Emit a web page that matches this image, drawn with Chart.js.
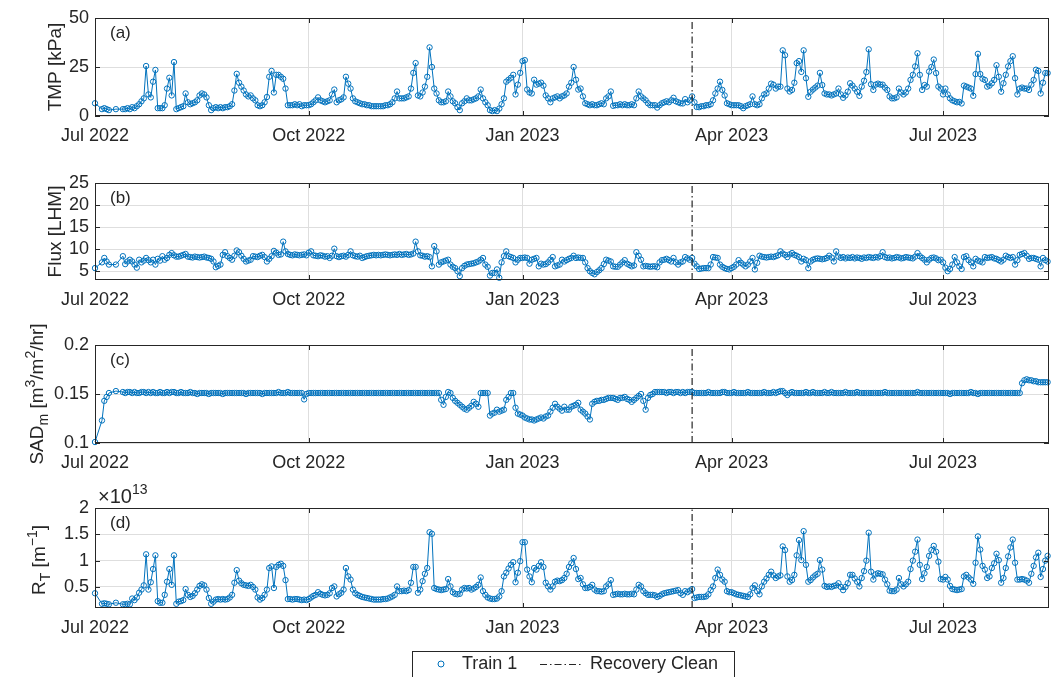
<!DOCTYPE html>
<html>
<head>
<meta charset="utf-8">
<script src="https://cdn.jsdelivr.net/npm/chart.js@4.4.1/dist/chart.umd.min.js"></script>
<style>
  html, body { margin: 0; padding: 0; background: #ffffff; }
  #wrap { position: relative; width: 1061px; height: 677px; overflow: hidden; }
  #wrap canvas { position: absolute; left: 0; top: 0; }
</style>
</head>
<body>
<div id="wrap">
  <canvas id="panelA" width="1061" height="677"></canvas>
  <canvas id="panelB" width="1061" height="677"></canvas>
  <canvas id="panelC" width="1061" height="677"></canvas>
  <canvas id="panelD" width="1061" height="677"></canvas>
</div>
<script>
// Daily records for Train 1, one value per day starting 2022-07-01 (null = no record that day)

// Transmembrane pressure [kPa]
const tmpKPa = [
  // Jul 2022
  6.5, null, null, 3.5, 4, 3.5, 3, null, null, 3.5, null, null, 3.5, 3.5, 4, 3.5, 4.5, 4, 5, 6, 7.5, 9, 25.5, 11, 9.5, 17.5, 23.5, 4, 4, 4, 5.5,
  // Aug 2022
  14, 19.5, 10.5, 27.5, 3.5, 4, 4.5, 5, 11.5, 7, 6, 6.5, 7, 8, 10.5, 11.5, 11, 9.5, 5.5, 3, 4, 4.5, 4, 4.5, 4, 4.5, 4.5, 5, 6, 13, 21.5,
  // Sep 2022
  17, 15, 13, 11, 10, 10.5, 9, 8, 5.5, 5, 5.5, 7, 9.7, 20, 23, 12, 21, 21, 20, 19, 14, 5.5, 5.5, 5.5, 6, 5.5, 6, 5, 5.5, 5.5,
  // Oct 2022
  5.5, 6, 7, 8, 9.5, 8, 7.5, 7, 7.5, 8, 11, 13.5, 7, 8, 8.5, 9.5, 20, 16.5, 14, 9, 7.5, 7, 6.5, 6, 6, 5.5, 5.5, 5, 5, 5, 5,
  // Nov 2022
  5, 5, 5.5, 5.5, 6, 7, 9, 12.5, 9, 9, 9, 9.5, 10, 14, 22, 27, 10.5, 10, 12, 15, 20, 35, 25, 14, 11.5, 8, 7, 7, 7.5, 12.5,
  // Dec 2022
  10, 7.5, 6.5, 4.5, 3, 6.5, 7.5, 9, 8, 8, 8.5, 9, 10, 13.5, 9, 7, 5.5, 3, 2.5, 3, 2.5, 3.8, 6, 9, 17.5, 18.5, 19.5, 21, 11, 16, 22,
  // Jan 2023
  28, 28.5, 13.5, 12, 11.5, 18.5, 16, 16.5, 17, 15.5, 10.5, 9, 7, 9, 9.5, 10, 9, 10, 10.5, 11.5, 15, 17, 25, 18.5, 13.5, 14, 10, 6.5, 6, 5.5, 6,
  // Feb 2023
  5.5, 5.5, 6, 6.5, 6, 9, 10, 12.5, 5.2, 5.5, 5.5, 6, 5.5, 6, 5.5, 5.5, 6, 5.5, 9, 12.5, 10, 9, 8, 6.5, 5.5, 5.5, 5.5, 4.3,
  // Mar 2023
  5.5, 6.5, 7, 7.5, 7, 8, 9.3, 7.5, 7, 6.5, 6.4, 8.6, 7, 8, 10, 7, 4.6, 4.5, 5, 5, 5.5, 5.5, 6, 8, 11.5, 14, 17.5, 13.3, 10.5, 6.5, 6,
  // Apr 2023
  5.5, 5.5, 5.5, 5.5, 5, 4, 5, 5.5, 6, 10, 6, 5.5, 6, 9, 11, 11.5, 14, 16.5, 16, 14, 15, 15, 33.5, 31, 14, 12.5, 13.3, 17, 27, 28,
  // May 2023
  22.5, 33.5, 19.3, 9.8, 12.4, 13.5, 14.5, 15.5, 22, 15.8, 11.5, 11, 11, 10.5, 11, 11.5, 14, 11, 9.3, 10.5, 12.4, 16.7, 15.5, 14, 12.4, 10.3, 15, 18, 22.4, 34, 16.2,
  // Jun 2023
  13.3, 16, 16.5, 16, 16, 14.5, 13.3, 10, 9, 9, 9.5, 14, 12, 11, 12, 14, 18.4, 21, 25.3, 32, 21, 13.3, 15.8, 15, 22.7, 25, 28.8, 21.9, 15, 14,
  // Jul 2023
  11, 14, 11, 9, 8, 7.5, 7, 7.2, 6.4, 15.5, 15, 14.5, 14, 10.3, 21.4, 31.7, 21.4, 19, 18.4, 15, 15.5, 16.7, 18.4, 25.9, 20, 12.4, 16.7, 21, 25.3, 28, 30.5,
  // Aug 2023
  19.3, 11, 14, 14.5, 14, 14, 13.3, 16, 18.4, 23.6, 23, 11.5, 17, 21.9, 21.9
];

// Permeate flux [LHM]
const fluxLHM = [
  5.7, null, null, 7, 8, 7.2, 6.5, null, null, 6.5, null, null, 8.4, 6.6, 7.2, 7.6, 7.2, 6.5, 5.8, 7.6, 7, 7.4, 8, 7.5, 7, 7.6, 6.5, 7.8, 7.4, 8.4, 7.6,
  8, 8.7, 9.1, 8.6, 8.3, 8.3, 8.5, 8.7, 8.9, 8.3, 8.2, 8.1, 8.3, 8.2, 8.1, 8.2, 8.3, 8.1, 8, 7.8, 7.2, 5.9, 6.2, 6.5, 8.7, 9.3, 8.4, 8, 7.6, 8.5, 9.7,
  9.3, 8.5, 7.8, 7.2, 7.4, 7.6, 8.4, 8.3, 8.2, 8.5, 8.7, 8.2, 7.2, 7.8, 8.4, 9.6, 9.2, 8.7, 8.8, 11.7, 9.5, 8.9, 8.7, 8.6, 8.8, 8.7, 8.6, 8.7, 8.8, 8.6,
  9.2, 9.5, 8.6, 8.5, 8.4, 8.6, 8.5, 8.3, 8.4, 8, 8.5, 10.1, 8.4, 8.2, 8.4, 8.5, 8.3, 8.7, 9.5, 8.6, 8.4, 8.3, 8.5, 8, 8.2, 8.4, 8.5, 8.6, 8.7, 8.6, 8.7,
  8.6, 8.7, 8.8, 8.7, 8.6, 8.7, 8.8, 8.7, 8.9, 8.7, 8.8, 8.9, 8.7, 8.8, 9, 11.7, 9.5, 8.6, 8.5, 8.3, 8.4, 8.2, 6.1, 10.7, 9.5, 6.5, 7, 7.2, 7.4, 7.6,
  6.5, 6, 5.7, 5, 3.9, 5.7, 6.2, 6.5, 6.6, 6.7, 6.8, 7, 7.2, 7.6, 8, 6.5, 6, 4, 4.6, 4.6, 5.4, 3.5, 7, 8.4, 9.5, 8.4, 8.2, 8, 7, 7.6, 8,
  8, 8.1, 8, 6.7, 7.6, 7.8, 8, 6.1, 6.7, 6.5, 6.6, 7, 7.6, 8.2, 6.1, 6.3, 6.5, 7.6, 7.2, 7.5, 7.8, 8, 8.5, 8, 8.1, 8, 8, 7, 5.7, 5, 4.6,
  4.3, 4.8, 5.2, 5.7, 6.6, 7.6, 7.4, 7.2, 6.1, 6, 6, 6.5, 7, 7.5, 6.7, 6.4, 6.1, 6.3, 9.3, 8.5, 7.6, 6.1, 6.2, 6.1, 6, 6.1, 6.1, 5.9,
  7, 7.5, 7.6, 7.8, 7.5, 7.2, 8, 7, 6.5, 7, 7.2, 8.2, 7.9, 7.6, 8, 6.7, 6.1, 5.5, 5.6, 5.7, 5.7, 5.7, 6.5, 8.2, 8.1, 8, 6.5, 6, 5.7, 5.5, 5.4,
  5.7, 6, 6.5, 7.5, 6.9, 6.5, 6.1, 6.5, 7.2, 8, 5.4, 6.9, 8.5, 8.3, 8.2, 8.1, 8.2, 8.3, 8.2, 8.4, 8.6, 9.5, 9, 8.7, 8.2, 8.8, 9.1, 8.7, 8.5, 8.2,
  7.2, 7.8, 7.5, 5.7, 7.2, 7.6, 7.8, 7.9, 7.8, 7.7, 7.8, 8, 8.5, 8.1, 7.2, 9.5, 8.3, 8, 8.2, 7.9, 8.1, 8, 8.2, 7.9, 8.1, 8, 7.8, 8.1, 8, 8.2, 8.1,
  8, 8.2, 8.1, 8.4, 9.3, 8.2, 8, 8.1, 7.9, 8, 8.2, 8.1, 7.9, 8, 8.2, 8.1, 8, 7.9, 8.3, 9.1, 8.4, 8, 7.6, 7, 7.6, 8, 8.1, 7.9, 7.5, 7.6,
  7, 5.8, 5, 5.5, 6.5, 8.2, 7, 6.1, 5.5, 8.2, 8.4, 7.5, 7, 6.1, 7.8, 7.4, 7.2, 7, 8.2, 8, 8.1, 8.2, 7.9, 7.8, 7.5, 7.2, 7.6, 8.5, 8.2, 8, 8.2,
  6.5, 7.5, 8.7, 8.9, 9.1, 8.5, 7.8, 8, 8, 7.8, 7.6, 6.1, 8, 7.5, 7.2
];

// Specific aeration demand SAD_m [m3/m2/hr]
const sadM = [
  0.101, null, null, 0.123, 0.143, 0.147, 0.151, null, null, 0.153, null, null, 0.152, 0.151, 0.152, 0.152, 0.151, 0.152, 0.151, 0.151, 0.152, 0.152, 0.151, 0.152, 0.151, 0.152, 0.151, 0.151, 0.152, 0.151, 0.151,
  0.152, 0.151, 0.152, 0.152, 0.151, 0.151, 0.152, 0.151, 0.151, 0.151, 0.152, 0.151, 0.151, 0.150, 0.151, 0.151, 0.151, 0.151, 0.150, 0.151, 0.151, 0.151, 0.151, 0.151, 0.150, 0.151, 0.151, 0.151, 0.151, 0.151, 0.151,
  0.151, 0.151, 0.151, 0.150, 0.151, 0.151, 0.151, 0.151, 0.151, 0.151, 0.150, 0.151, 0.151, 0.151, 0.151, 0.151, 0.151, 0.152, 0.151, 0.151, 0.151, 0.152, 0.151, 0.151, 0.151, 0.151, 0.151, 0.151, 0.1445, 0.150,
  0.151, 0.151, 0.151, 0.151, 0.151, 0.151, 0.151, 0.151, 0.151, 0.151, 0.151, 0.151, 0.151, 0.151, 0.151, 0.151, 0.151, 0.151, 0.151, 0.151, 0.151, 0.151, 0.151, 0.151, 0.151, 0.151, 0.151, 0.151, 0.151, 0.151, 0.151,
  0.151, 0.151, 0.151, 0.151, 0.151, 0.151, 0.151, 0.151, 0.151, 0.151, 0.151, 0.151, 0.151, 0.151, 0.151, 0.151, 0.151, 0.151, 0.151, 0.151, 0.151, 0.151, 0.151, 0.151, 0.151, 0.151, 0.144, 0.139, 0.147, 0.152,
  0.151, 0.146, 0.143, 0.141, 0.139, 0.137, 0.135, 0.134, 0.136, 0.138, 0.142, 0.140, 0.137, 0.151, 0.151, 0.151, 0.151, 0.128, 0.130, 0.131, 0.134, 0.132, 0.133, 0.134, 0.144, 0.147, 0.151, 0.151, 0.136, 0.130, 0.129,
  0.128, 0.126, 0.125, 0.124, 0.124, 0.123, 0.124, 0.125, 0.126, 0.125, 0.127, 0.128, 0.132, 0.136, 0.140, 0.137, 0.135, 0.133, 0.137, 0.134, 0.134, 0.137, 0.138, 0.139, 0.141, 0.134, 0.132, 0.130, 0.127, 0.124, 0.140,
  0.142, 0.143, 0.143, 0.144, 0.144, 0.145, 0.146, 0.146, 0.146, 0.145, 0.144, 0.146, 0.146, 0.147, 0.145, 0.144, 0.142, 0.144, 0.146, 0.148, 0.150, 0.143, 0.134, 0.146, 0.149, 0.150, 0.152, 0.152,
  0.152, 0.152, 0.152, 0.151, 0.152, 0.152, 0.151, 0.152, 0.152, 0.151, 0.152, 0.151, 0.152, 0.152, 0.152, 0.151, 0.151, 0.151, 0.151, 0.151, 0.151, 0.152, 0.151, 0.151, 0.151, 0.151, 0.151, 0.152, 0.152, 0.151, 0.151,
  0.151, 0.152, 0.151, 0.151, 0.151, 0.151, 0.151, 0.152, 0.151, 0.151, 0.151, 0.151, 0.151, 0.151, 0.152, 0.151, 0.151, 0.151, 0.152, 0.151, 0.152, 0.153, 0.153, 0.151, 0.149, 0.151, 0.152, 0.151, 0.151, 0.151,
  0.151, 0.151, 0.152, 0.151, 0.151, 0.152, 0.151, 0.151, 0.151, 0.151, 0.152, 0.151, 0.151, 0.152, 0.151, 0.151, 0.151, 0.151, 0.151, 0.152, 0.151, 0.151, 0.151, 0.151, 0.152, 0.151, 0.151, 0.151, 0.151, 0.151, 0.151,
  0.151, 0.151, 0.151, 0.151, 0.151, 0.152, 0.151, 0.151, 0.151, 0.151, 0.151, 0.151, 0.151, 0.151, 0.151, 0.151, 0.151, 0.151, 0.151, 0.152, 0.151, 0.151, 0.151, 0.151, 0.151, 0.151, 0.151, 0.151, 0.151, 0.151,
  0.151, 0.151, 0.151, 0.150, 0.151, 0.151, 0.151, 0.151, 0.151, 0.151, 0.151, 0.151, 0.152, 0.151, 0.151, 0.150, 0.151, 0.151, 0.151, 0.151, 0.151, 0.151, 0.151, 0.151, 0.151, 0.151, 0.151, 0.151, 0.151, 0.151, 0.151,
  0.151, 0.151, 0.151, 0.161, 0.164, 0.165, 0.164, 0.164, 0.163, 0.163, 0.162, 0.162, 0.162, 0.162, 0.162
];

// Total filtration resistance R_T [10^13 m^-1]
const rtE13 = [
  0.38, null, null, 0.18, 0.19, 0.18, 0.17, null, null, 0.2, null, null, 0.17, 0.17, 0.18, 0.17, 0.28, 0.25, 0.3, 0.39, 0.45, 0.53, 1.12, 0.45, 0.59, 0.84, 1.1, 0.23, 0.2, 0.2, 0.35,
  0.6, 0.84, 0.54, 1.1, 0.18, 0.22, 0.23, 0.25, 0.46, 0.35, 0.31, 0.33, 0.38, 0.45, 0.52, 0.55, 0.53, 0.45, 0.29, 0.18, 0.22, 0.26, 0.27, 0.26, 0.27, 0.26, 0.27, 0.3, 0.35, 0.58, 0.82,
  0.62, 0.57, 0.54, 0.53, 0.52, 0.54, 0.5, 0.45, 0.3, 0.26, 0.29, 0.35, 0.45, 0.86, 0.89, 0.48, 0.88, 0.92, 0.94, 0.9, 0.63, 0.27, 0.27, 0.26, 0.27, 0.27, 0.26, 0.25, 0.26, 0.25,
  0.27, 0.3, 0.33, 0.35, 0.4, 0.37, 0.35, 0.34, 0.35, 0.38, 0.48, 0.51, 0.32, 0.36, 0.39, 0.45, 0.86, 0.7, 0.64, 0.45, 0.38, 0.35, 0.33, 0.31, 0.3, 0.29, 0.28, 0.27, 0.26, 0.26, 0.26,
  0.26, 0.27, 0.27, 0.28, 0.3, 0.32, 0.35, 0.51, 0.42, 0.42, 0.43, 0.42, 0.44, 0.58, 0.88, 0.88, 0.39, 0.45, 0.61, 0.75, 0.86, 1.54, 1.51, 0.48, 0.46, 0.45, 0.44, 0.45, 0.46, 0.65,
  0.51, 0.4, 0.37, 0.36, 0.37, 0.45, 0.48, 0.47, 0.48, 0.45, 0.47, 0.5, 0.54, 0.68, 0.42, 0.35, 0.3, 0.28, 0.27, 0.27, 0.28, 0.32, 0.42, 0.7, 0.77, 0.85, 0.92, 0.97, 0.59, 0.77, 0.99,
  1.35, 1.35, 0.83, 0.7, 0.59, 0.86, 0.83, 0.9, 0.97, 0.88, 0.58, 0.51, 0.45, 0.51, 0.6, 0.62, 0.61, 0.63, 0.67, 0.75, 0.88, 0.95, 1.05, 0.84, 0.65, 0.67, 0.55, 0.48, 0.48, 0.5, 0.54,
  0.45, 0.42, 0.42, 0.41, 0.42, 0.51, 0.55, 0.63, 0.35, 0.36, 0.37, 0.36, 0.36, 0.37, 0.36, 0.36, 0.37, 0.36, 0.45, 0.54, 0.51, 0.42, 0.38, 0.35, 0.35, 0.35, 0.34, 0.31,
  0.33, 0.36, 0.38, 0.39, 0.4, 0.41, 0.42, 0.43, 0.44, 0.38, 0.35, 0.42, 0.4, 0.43, 0.46, 0.29, 0.3, 0.31, 0.31, 0.31, 0.32, 0.36, 0.44, 0.51, 0.67, 0.83, 0.73, 0.64, 0.6, 0.42, 0.4,
  0.4, 0.38, 0.36, 0.35, 0.34, 0.33, 0.32, 0.31, 0.36, 0.48, 0.53, 0.42, 0.36, 0.51, 0.6, 0.66, 0.73, 0.79, 0.72, 0.67, 0.7, 0.72, 1.27, 1.2, 0.7, 0.6, 0.63, 0.73, 1.1, 1.39,
  1.01, 1.56, 0.92, 0.6, 0.63, 0.68, 0.72, 0.75, 1.01, 0.83, 0.52, 0.5, 0.51, 0.5, 0.52, 0.53, 0.57, 0.5, 0.44, 0.5, 0.57, 0.73, 0.73, 0.66, 0.6, 0.51, 0.67, 0.8, 1.0, 1.53, 0.79,
  0.64, 0.74, 0.76, 0.75, 0.74, 0.64, 0.55, 0.43, 0.42, 0.42, 0.45, 0.67, 0.55, 0.51, 0.55, 0.6, 0.84, 1.0, 1.17, 1.4, 0.92, 0.65, 0.76, 0.88, 1.09, 1.2, 1.28, 1.17, 0.98, 0.65,
  0.64, 0.69, 0.64, 0.52, 0.46, 0.45, 0.44, 0.45, 0.46, 0.7, 0.73, 0.68, 0.64, 0.56, 0.96, 1.46, 1.21, 0.9, 0.83, 0.67, 0.7, 0.86, 0.95, 1.13, 1.01, 0.58, 0.67, 0.86, 1.08, 1.25, 1.4,
  0.96, 0.64, 0.64, 0.65, 0.64, 0.62, 0.58, 0.75, 0.9, 1.06, 1.15, 0.69, 0.84, 1.0, 1.09
];

// Time axis: days counted from 2022-07-01
const monthTickDays = [0, 92, 184, 274, 365];
const monthTickLabels = ['Jul 2022', 'Oct 2022', 'Jan 2023', 'Apr 2023', 'Jul 2023'];
const lastDay = 410.6;
const recoveryCleanDay = 257;   // 2023-03-15

// Y tick values and labels for each panel
const tmpTicks = [0, 25, 50];
const tmpTickLabels = ['0', '25', '50'];
const fluxTicks = [5, 10, 15, 20, 25];
const fluxTickLabels = ['5', '10', '15', '20', '25'];
const sadTicks = [0.1, 0.15, 0.2];
const sadTickLabels = ['0.1', '0.15', '0.2'];
const rtTicks = [0.5, 1, 1.5, 2];
const rtTickLabels = ['0.5', '1', '1.5', '2'];

const FONT = "'Liberation Sans', Arial, Helvetica, sans-serif";
const INK = '#262626';
const BLUE = '#0072BD';
const GRID = '#dedede';

Chart.defaults.font.family = FONT;
Chart.defaults.color = INK;

// Draws a run of text pieces (for sub/superscripts), optionally rotated to read upward.
function drawRich(ctx, x, y, parts, vertical, align) {
  ctx.save();
  ctx.translate(x, y);
  if (vertical) ctx.rotate(-Math.PI / 2);
  let total = 0;
  for (const p of parts) {
    ctx.font = p.size + 'px ' + FONT;
    p.w = ctx.measureText(p.t).width;
    total += p.w;
  }
  let cx = align === 'left' ? 0 : -total / 2;
  ctx.fillStyle = INK;
  ctx.textAlign = 'left';
  ctx.textBaseline = 'alphabetic';
  for (const p of parts) {
    ctx.font = p.size + 'px ' + FONT;
    ctx.fillText(p.t, cx, p.dy || 0);
    cx += p.w;
  }
  ctx.restore();
}

// Box, inward tick marks, axis title, panel tag, and any panel extras
const panelDeco = {
  id: 'panelDeco',
  afterDraw(chart, args, opts) {
    const { ctx, chartArea: a, scales } = chart;
    ctx.save();
    ctx.strokeStyle = INK;
    ctx.lineWidth = 1;
    ctx.beginPath();
    for (const t of scales.x.ticks) {
      const px = Math.round(scales.x.getPixelForValue(t.value)) + 0.5;
      ctx.moveTo(px, a.bottom); ctx.lineTo(px, a.bottom - 5);
      ctx.moveTo(px, a.top); ctx.lineTo(px, a.top + 5);
    }
    for (const t of scales.y.ticks) {
      const py = Math.round(scales.y.getPixelForValue(t.value)) + 0.5;
      ctx.moveTo(a.left, py); ctx.lineTo(a.left + 5, py);
      ctx.moveTo(a.right, py); ctx.lineTo(a.right - 5, py);
    }
    ctx.stroke();
    ctx.strokeRect(a.left + 0.5, a.top + 0.5, a.right - a.left - 1, a.bottom - a.top - 1);
    ctx.restore();

    ctx.save();
    ctx.font = '17px ' + FONT;
    ctx.fillStyle = INK;
    ctx.textBaseline = 'middle';
    ctx.fillText(opts.tag, a.left + 15, a.top + 15);
    ctx.restore();

    drawRich(ctx, opts.titleX, (a.top + a.bottom) / 2 + (opts.titleShift || 0), opts.title, true);
    if (opts.extra) opts.extra(chart, a);
  }
};

function makePanel(id, cfg) {
  const gridOpts = { color: GRID, lineWidth: 1, drawTicks: false };
  return new Chart(document.getElementById(id), {
    type: 'line',
    data: {
      datasets: [
        {
          label: 'Recovery Clean',
          data: [{ x: recoveryCleanDay, y: cfg.min }, { x: recoveryCleanDay, y: cfg.max }],
          borderColor: INK,
          borderWidth: 1.2,
          borderDash: [7, 3, 1.5, 3],
          pointRadius: 0,
          clip: false,
          order: 0
        },
        {
          label: 'Train 1',
          data: cfg.values.map((v, i) => ({ x: i, y: v })),
          borderColor: BLUE,
          borderWidth: 1,
          pointRadius: 2.7,
          pointBorderWidth: 1,
          pointBorderColor: BLUE,
          pointBackgroundColor: 'rgba(0,0,0,0)',
          spanGaps: true,
          tension: 0,
          clip: false,
          order: 1
        }
      ]
    },
    options: {
      responsive: false,
      animation: false,
      devicePixelRatio: 1,
      events: [],
      layout: { padding: { left: 35, right: 12, top: cfg.top, bottom: 677 - cfg.bottom - 40 } },
      plugins: {
        legend: { display: false },
        tooltip: { enabled: false },
        panelDeco: { tag: cfg.tag, title: cfg.title, titleX: cfg.titleX, titleShift: cfg.titleShift, extra: cfg.extra }
      },
      scales: {
        x: {
          type: 'linear',
          min: 0,
          max: lastDay,
          afterBuildTicks: s => { s.ticks = monthTickDays.map(v => ({ value: v })); },
          afterFit: s => { s.height = 40; },
          ticks: {
            autoSkip: false, maxRotation: 0, padding: 9,
            font: { size: 18 }, color: INK,
            callback: (v, i) => monthTickLabels[i]
          },
          grid: gridOpts,
          border: { display: false }
        },
        y: {
          type: 'linear',
          min: cfg.min,
          max: cfg.max,
          afterBuildTicks: s => { s.ticks = cfg.ticks.map(v => ({ value: v })); },
          afterFit: s => { s.width = 60; },
          ticks: {
            autoSkip: false, padding: 6,
            font: { size: 18 }, color: INK,
            callback: (v, i) => cfg.tickLabels[i]
          },
          grid: gridOpts,
          border: { display: false }
        }
      }
    },
    plugins: [panelDeco]
  });
}

makePanel('panelA', {
  values: tmpKPa, min: 0, max: 50, ticks: tmpTicks, tickLabels: tmpTickLabels,
  top: 18, bottom: 116, tag: '(a)', titleX: 61,
  title: [{ t: 'TMP [kPa]', size: 19 }]
});

makePanel('panelB', {
  values: fluxLHM, min: 3, max: 25, ticks: fluxTicks, tickLabels: fluxTickLabels,
  top: 183, bottom: 280, tag: '(b)', titleX: 61,
  title: [{ t: 'Flux [LHM]', size: 19 }]
});

makePanel('panelC', {
  values: sadM, min: 0.1, max: 0.2, ticks: sadTicks, tickLabels: sadTickLabels,
  top: 345, bottom: 443, tag: '(c)', titleX: 43,
  title: [
    { t: 'SAD', size: 19 }, { t: 'm', size: 14, dy: 5 },
    { t: ' [m', size: 19 }, { t: '3', size: 14, dy: -8 },
    { t: '/m', size: 19 }, { t: '2', size: 14, dy: -8 },
    { t: '/hr]', size: 19 }
  ]
});

makePanel('panelD', {
  values: rtE13, min: 0.1, max: 2, ticks: rtTicks, tickLabels: rtTickLabels,
  top: 508, bottom: 608, tag: '(d)', titleX: 45, titleShift: 2,
  title: [
    { t: 'R', size: 19 }, { t: 'T', size: 14, dy: 5 },
    { t: ' [m', size: 19 }, { t: '\u22121', size: 14, dy: -8 },
    { t: ']', size: 19 }
  ],
  extra: (chart, a) => {
    const ctx = chart.ctx;
    // axis multiplier
    drawRich(ctx, a.left + 3, a.top - 5, [{ t: '\u00d710', size: 20 }, { t: '13', size: 14, dy: -9 }], false, 'left');
    // legend box
    const series = chart.data.datasets.find(d => d.label === 'Train 1');
    const clean = chart.data.datasets.find(d => d.label === 'Recovery Clean');
    ctx.save();
    ctx.fillStyle = '#ffffff';
    ctx.fillRect(412, 651, 322, 40);
    ctx.strokeStyle = INK;
    ctx.lineWidth = 1;
    ctx.strokeRect(412.5, 651.5, 322, 40);
    ctx.strokeStyle = series.borderColor;
    ctx.beginPath();
    ctx.arc(441, 664, 3, 0, Math.PI * 2);
    ctx.stroke();
    ctx.fillStyle = INK;
    ctx.font = '18px ' + FONT;
    ctx.textBaseline = 'middle';
    ctx.fillText(series.label, 462, 664);
    ctx.strokeStyle = clean.borderColor;
    ctx.lineWidth = clean.borderWidth;
    ctx.setLineDash(clean.borderDash);
    ctx.beginPath();
    ctx.moveTo(540, 664.5);
    ctx.lineTo(581, 664.5);
    ctx.stroke();
    ctx.setLineDash([]);
    ctx.fillText(clean.label, 590, 664);
    ctx.restore();
  }
});
</script>
</body>
</html>
